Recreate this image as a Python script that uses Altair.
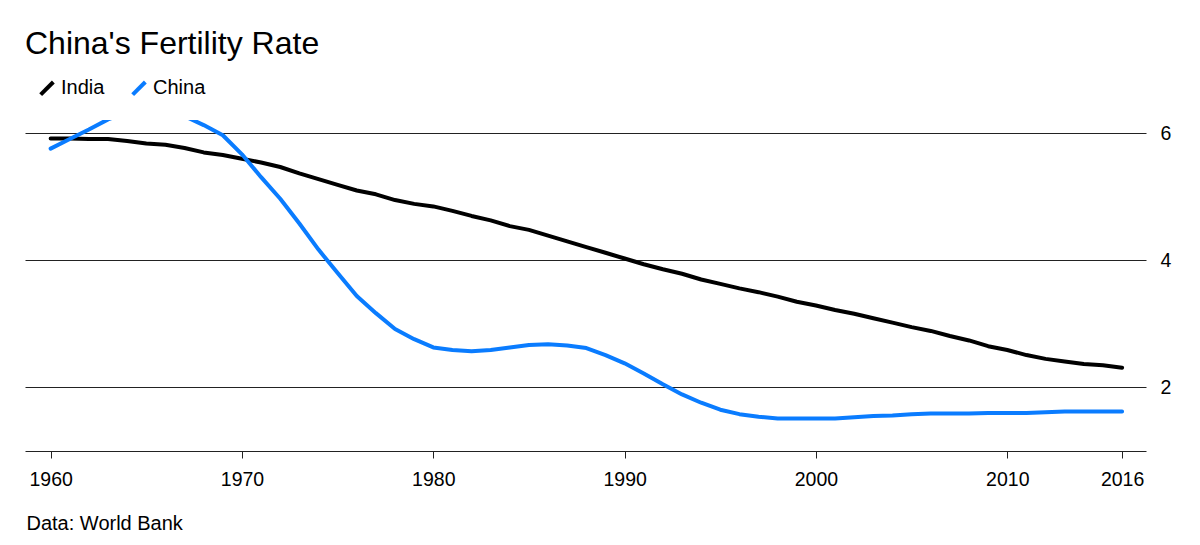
import altair as alt
import pandas as pd

years = list(range(1960, 2017))
india = [5.92, 5.92, 5.91, 5.91, 5.88, 5.84, 5.82, 5.77, 5.70, 5.66,
         5.60, 5.54, 5.47, 5.37, 5.28, 5.19, 5.10, 5.04, 4.95, 4.89,
         4.85, 4.78, 4.70, 4.63, 4.54, 4.48, 4.39, 4.30, 4.21, 4.12,
         4.03, 3.94, 3.86, 3.79, 3.70, 3.63, 3.56, 3.50, 3.43, 3.35,
         3.29, 3.22, 3.16, 3.09, 3.02, 2.95, 2.89, 2.81, 2.74, 2.65,
         2.59, 2.51, 2.45, 2.41, 2.37, 2.35, 2.31]
china = [5.76, 5.91, 6.06, 6.22, 6.33, 6.40, 6.36, 6.27, 6.13, 5.97,
         5.67, 5.31, 4.97, 4.58, 4.17, 3.80, 3.44, 3.17, 2.92, 2.76,
         2.63, 2.59, 2.57, 2.59, 2.63, 2.67, 2.68, 2.66, 2.62, 2.51,
         2.38, 2.22, 2.05, 1.89, 1.76, 1.65, 1.58, 1.54, 1.51, 1.51,
         1.51, 1.51, 1.53, 1.55, 1.56, 1.58, 1.59, 1.59, 1.59, 1.60,
         1.60, 1.60, 1.61, 1.62, 1.62, 1.62, 1.62]
series_names = ["India", "China"]
series_colors = ["#000000", "#0a7cff"]
x_ticks = [1960, 1970, 1980, 1990, 2000, 2010, 2016]
y_ticks = [2, 4, 6]

df = pd.DataFrame({
    "year": years + years,
    "value": india + china,
    "country": ["India"] * len(years) + ["China"] * len(years),
})

FONT = "Liberation Sans"

chart = alt.Chart(df).mark_line(
    strokeWidth=4, strokeCap="round", strokeJoin="round", clip=True
).encode(
    x=alt.X("year:Q",
            scale=alt.Scale(domain=[1958.66, 2017.25], nice=False, zero=False),
            axis=alt.Axis(values=x_ticks, format="d", grid=False,
                          domain=True, domainColor="#222222", domainWidth=1,
                          ticks=True, tickSize=7, tickColor="#222222", tickWidth=1,
                          labelFont=FONT, labelFontSize=19.5, labelColor="#000000",
                          labelPadding=12, labelFlush=False, labelOverlap=False,
                          title="Data: World Bank", titleFont=FONT, titleFontSize=20,
                          titleFontWeight="normal", titleColor="#000000",
                          titleAnchor="start", titleAlign="left", titleBaseline="alphabetic",
                          titleX=1, titleY=78)),
    y=alt.Y("value:Q",
            scale=alt.Scale(domain=[1.0, 6.21], nice=False, zero=False),
            axis=alt.Axis(orient="right", values=y_ticks, domain=False, ticks=False,
                          grid=True, gridColor="#222222", gridWidth=1,
                          labelFont=FONT, labelFontSize=19.5, labelColor="#000000",
                          labelPadding=14, labelAlign="left", labelBaseline="middle",
                          title=None)),
    color=alt.Color("country:N",
                    scale=alt.Scale(domain=series_names, range=series_colors),
                    legend=alt.Legend(orient="none", legendX=12, legendY=-42,
                                      direction="horizontal", title=None,
                                      symbolType="M-1,1L1,-1", symbolSize=160,
                                      symbolStrokeWidth=4, labelOffset=4,
                                      columnPadding=19, padding=0,
                                      labelFont=FONT, labelFontSize=20,
                                      labelColor="#000000")),
).properties(
    width=1121, height=331,
    title=alt.Title("China's Fertility Rate", font=FONT, fontSize=32,
                    fontWeight="normal", color="#000000", anchor="start", offset=17),
    padding={"left": 17, "top": 112, "right": 46, "bottom": 86},
    autosize="none",
).configure_view(stroke=None)

chart.save("out.html", embed_options={"renderer": "svg", "actions": False})
